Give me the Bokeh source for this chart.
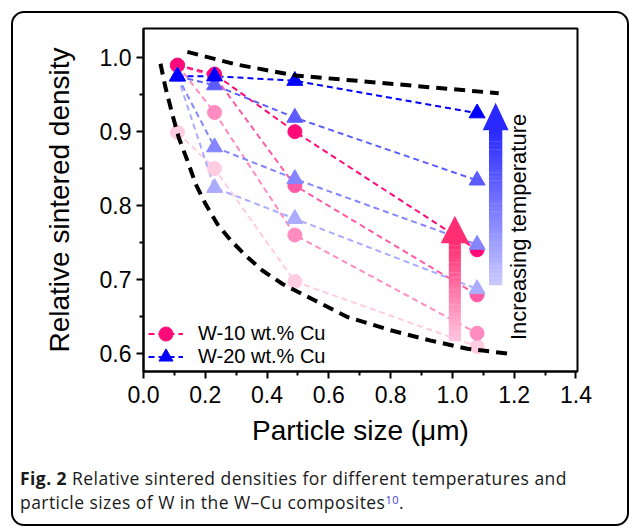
import math
from bokeh.plotting import figure
from bokeh.layouts import column
from bokeh.models import (Range1d, Label, Legend, LegendItem, Div, InlineStyleSheet,
                          PrintfTickFormatter, FixedTicker)
from bokeh.embed import file_html
from bokeh.resources import INLINE

# ---------------- data ----------------
particle_size = [0.11, 0.23, 0.49, 1.08]

w10_t1 = [0.899, 0.850, 0.697, 0.609]
w10_t2 = [0.990, 0.926, 0.760, 0.627]
w10_t3 = [0.990, 0.975, 0.827, 0.679]
w10_t4 = [0.990, 0.978, 0.900, 0.740]

w20_t1 = [0.975, 0.824, 0.782, 0.687]
w20_t2 = [0.975, 0.879, 0.836, 0.747]
w20_t3 = [0.975, 0.963, 0.919, 0.834]
w20_t4 = [0.975, 0.975, 0.969, 0.925]

upper_x = [0.142, 0.30, 0.493, 0.77, 1.15]
upper_y = [1.008, 0.991, 0.976, 0.966, 0.952]
lower_x = [0.055, 0.071, 0.093, 0.114, 0.142, 0.169, 0.201, 0.239, 0.282, 0.331,
           0.385, 0.449, 0.514, 0.552, 0.66, 0.80, 0.93, 1.049, 1.189]
lower_y = [0.992, 0.960, 0.924, 0.892, 0.861, 0.829, 0.802, 0.775, 0.753, 0.732,
           0.712, 0.694, 0.680, 0.672, 0.649, 0.631, 0.617, 0.606, 0.599]

x_ticks = [0.0, 0.2, 0.4, 0.6, 0.8, 1.0, 1.2, 1.4]
y_ticks = [0.6, 0.7, 0.8, 0.9, 1.0]

series_labels = ["W-10 wt.% Cu", "W-20 wt.% Cu"]
arrow_text = "Increasing temperature"
caption_bold = "Fig. 2"
caption_line1 = "Relative sintered densities for different temperatures and"
caption_line2 = "particle sizes of W in the W\u2013Cu composites"
caption_ref = "10"

# ---------------- styles ----------------
pink = ["#FFCCE2", "#FF8CC0", "#FF5AA5", "#FF0A78"]
blue = ["#ABABFF", "#8585FF", "#5B5BFF", "#0000FF"]
FONT = "Liberation Sans"
CAP_FONT = "Open Sans"

p = figure(width=629, height=462,
           x_range=Range1d(0.0, 1.405), y_range=Range1d(0.5752, 1.0397),
           output_backend="svg", toolbar_location=None,
           min_border_left=143, min_border_right=52,
           min_border_top=28, min_border_bottom=91, margin=0)

p.grid.visible = False
p.outline_line_color = "black"
p.outline_line_width = 2
p.background_fill_color = "white"
p.border_fill_color = None

p.xaxis.ticker = FixedTicker(ticks=x_ticks,
                             minor_ticks=[(a + b) / 2 for a, b in zip(x_ticks[:-1], x_ticks[1:])])
p.yaxis.ticker = FixedTicker(ticks=y_ticks,
                             minor_ticks=[(a + b) / 2 for a, b in zip(y_ticks[:-1], y_ticks[1:])])
p.axis.formatter = PrintfTickFormatter(format="%.1f")
for ax in (p.xaxis[0], p.yaxis[0]):
    ax.axis_line_width = 2
    ax.axis_line_color = "black"
    ax.major_tick_line_width = 2
    ax.minor_tick_line_width = 2
    ax.major_tick_out = 7
    ax.major_tick_in = 0
    ax.minor_tick_out = 4
    ax.minor_tick_in = 0
    ax.major_label_text_font = FONT
    ax.major_label_text_font_size = "23px"
    ax.major_label_text_color = "black"
    ax.axis_label_text_font = FONT
    ax.axis_label_text_font_size = "28px"
    ax.axis_label_text_font_style = "normal"
    ax.axis_label_text_color = "black"

p.xaxis.axis_label = "Particle size (\u03bcm)"
p.yaxis.axis_label = "Relative sintered density"
p.xaxis.major_label_standoff = 7
p.yaxis.major_label_standoff = 5
p.xaxis.axis_label_standoff = 9
p.yaxis.axis_label_standoff = 22

# ---------------- series ----------------
w10 = [w10_t1, w10_t2, w10_t3, w10_t4]
w20 = [w20_t1, w20_t2, w20_t3, w20_t4]
line_r = {}
mark_r = {}
for i, ys in enumerate(w10):
    line_r[("a", i)] = p.line(particle_size, ys, line_color=pink[i], line_width=2, line_dash="6 4")
for i, ys in enumerate(w20):
    line_r[("b", i)] = p.line(particle_size, ys, line_color=blue[i], line_width=2, line_dash="6 4")
for i, ys in enumerate(w10):
    mark_r[("a", i)] = p.scatter(particle_size, ys, marker="circle", size=14,
                                 fill_color=pink[i], line_color=pink[i])
for i, ys in enumerate(w20):
    mark_r[("b", i)] = p.scatter(particle_size, ys, marker="triangle", size=16,
                                 fill_color=blue[i], line_color=blue[i])

# envelope curves
p.line(upper_x, upper_y, line_color="black", line_width=4, line_dash="11 7")
p.line(lower_x, lower_y, line_color="black", line_width=4, line_dash="11 7")

# ---------------- gradient arrows ----------------
def hex2rgb(h):
    h = h.lstrip("#")
    return tuple(int(h[k:k + 2], 16) for k in (0, 2, 4))

def mix(c0, c1, t):
    a, b = hex2rgb(c0), hex2rgb(c1)
    return "#%02x%02x%02x" % tuple(round(a[k] + (b[k] - a[k]) * t) for k in range(3))

def grad_arrow(xc, y0, y_base, y_tip, half_w, head_half, c_bottom, c_top, n=40):
    lefts, rights, bottoms, tops, cols = [], [], [], [], []
    for k in range(n):
        b = y0 + (y_base - y0) * k / n
        t = y0 + (y_base - y0) * (k + 1) / n
        lefts.append(xc - half_w); rights.append(xc + half_w)
        bottoms.append(b); tops.append(t + 0.0005)
        cols.append(mix(c_bottom, c_top, (k + 0.5) / n))
    p.quad(left=lefts, right=rights, bottom=bottoms, top=tops,
           fill_color=cols, line_color=None)
    p.patch([xc - head_half, xc + head_half, xc], [y_base, y_base, y_tip],
            fill_color=c_top, line_color=None)

grad_arrow(1.008, 0.616, 0.749, 0.786, 0.0195, 0.046, "#FFC6E0", "#FF2E72")
grad_arrow(1.140, 0.692, 0.902, 0.939, 0.0215, 0.042, "#CACAFF", "#2828FF")

p.add_layout(Label(x=1.214, y=0.771, text=arrow_text, angle=math.pi / 2,
                   text_align="center", text_baseline="middle",
                   text_font=FONT, text_font_size="22px", text_color="black"))

# ---------------- legend (one entry per box, to control row spacing) ----------------
leg_kw = dict(orientation="vertical", glyph_width=35, glyph_height=35, spacing=0,
              padding=0, margin=0, label_standoff=15, label_text_font=FONT,
              label_text_font_size="20px", label_text_color="black",
              border_line_alpha=0, background_fill_alpha=0)
p.add_layout(Legend(items=[LegendItem(label=series_labels[0],
                                      renderers=[line_r[("a", 3)], mark_r[("a", 3)]])],
                    location=(5, 20), **leg_kw))
p.add_layout(Legend(items=[LegendItem(label=series_labels[1],
                                      renderers=[line_r[("b", 3)], mark_r[("b", 3)]])],
                    location=(5, -3), **leg_kw))

# ---------------- caption & outer rounded box ----------------
cap_html = (f"<b>{caption_bold}</b> {caption_line1}<br>{caption_line2}"
            f"<span style=\"color:#3b3bd6;font-size:11px;line-height:0;"
            f"vertical-align:5px\">{caption_ref}</span>.")
cap = Div(text=cap_html, width=629, height=64, margin=0,
          styles={"font-family": CAP_FONT, "font-size": "17.5px", "line-height": "24px",
                  "letter-spacing": "0.45px",
                  "color": "#1a1a1a", "padding-left": "20px", "padding-top": "4px",
                  "box-sizing": "border-box", "white-space": "nowrap"})

box_css = InlineStyleSheet(css=(
    ":host { overflow: hidden; }"
    ":host::after { content: ''; position: absolute; left: 11px; top: 11px;"
    " width: 618px; height: 515px; border: 2px solid #000; border-radius: 13px;"
    " box-sizing: border-box; pointer-events: none; }"))

page = column(p, cap, width=629, height=526, margin=0, spacing=0,
              stylesheets=[box_css], styles={"background-color": "white"})

open("out.html", "w").write(file_html(page, INLINE))
